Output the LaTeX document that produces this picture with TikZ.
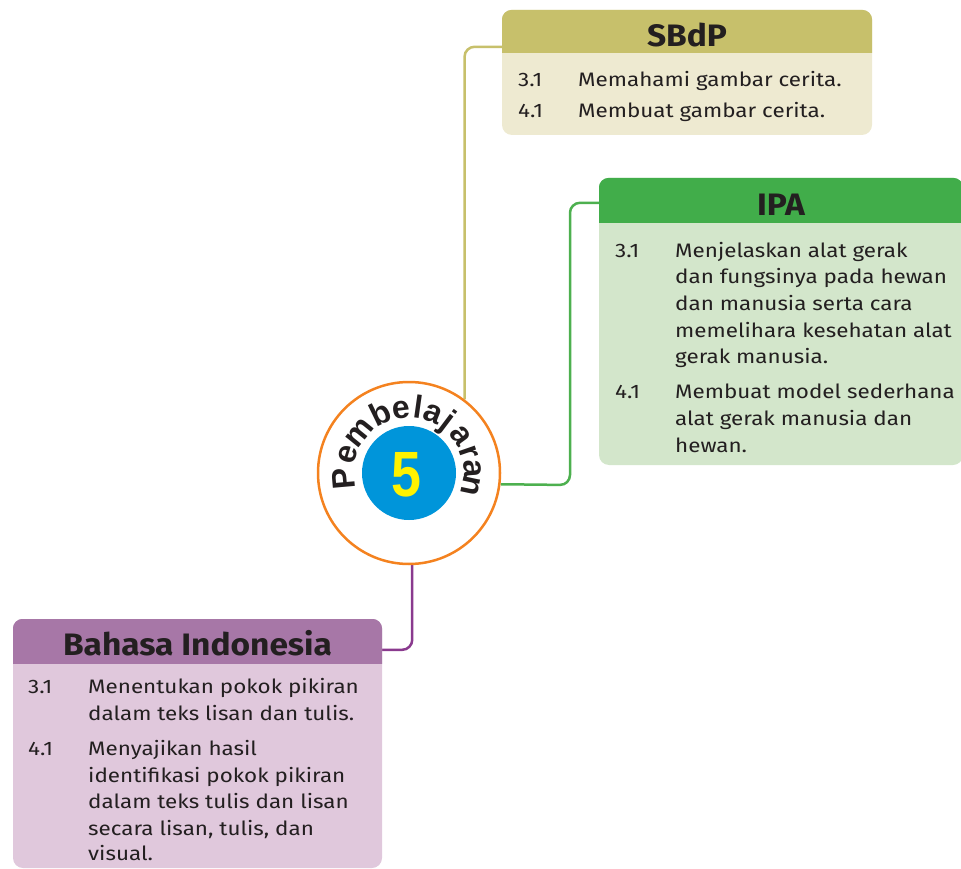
\documentclass[tikz,border=0pt]{standalone}
\usepackage{fontspec}
\setmainfont{Fira Sans}[FakeStretch=1.15]
\newfontfamily\titlefont{Fira Sans}[FakeStretch=1.08]
\newfontfamily\numfont{Liberation Sans}
\usetikzlibrary{calc,backgrounds}
\definecolor{sbdphead}{HTML}{C7C06B}
\definecolor{sbdpbody}{HTML}{EEEAD1}
\definecolor{ipahead}{HTML}{41AD4A}
\definecolor{ipabody}{HTML}{D3E6CB}
\definecolor{ipalink}{HTML}{4DB04F}
\definecolor{bihead}{HTML}{A777A7}
\definecolor{bibody}{HTML}{E0C8DC}
\definecolor{bilink}{HTML}{8A3A8E}
\definecolor{ring}{HTML}{F4821F}
\definecolor{blue5}{HTML}{0095DA}
\definecolor{yel5}{HTML}{FFF200}
\definecolor{ink}{HTML}{231F20}
\tikzset{
  card/.style={rectangle, rounded corners=10pt, inner sep=0pt, draw=none},
  cardtitle/.style={font=\titlefont\fontsize{31}{31}\selectfont\bfseries, text=ink, anchor=base, inner sep=0pt},
  txt/.style={font=\fontsize{19.5}{24}\selectfont, text=ink, anchor=base west, inner sep=0pt},
  link/.style={line width=2.5pt, rounded corners=10pt},
  arcl/.style={font=\numfont\bfseries\fontsize{32}{32}\selectfont, text=ink, anchor=base, inner sep=0pt}
}
\begin{document}
\begin{tikzpicture}[x=1pt,y=-1pt]
\useasboundingbox (0,0) rectangle (961,869);
% cards
\node[card, fill=sbdpbody, minimum width=370pt, minimum height=125pt] (sbdp) at (687,72.5) {};
\begin{scope}
  \clip (502,10) rectangle (872,53);
  \fill[sbdphead, rounded corners=10pt] (sbdp.north west) rectangle (sbdp.south east);
\end{scope}
\node[card, fill=ipabody, minimum width=364pt, minimum height=287pt] (ipa) at (781,321.5) {};
\begin{scope}
  \clip (599,178) rectangle (963,223);
  \fill[ipahead, rounded corners=10pt] (ipa.north west) rectangle (ipa.south east);
\end{scope}
\node[card, fill=bibody, minimum width=369pt, minimum height=249pt] (bi) at (197.5,743.5) {};
\begin{scope}
  \clip (13,619) rectangle (382,663);
  \fill[bihead, rounded corners=10pt] (bi.north west) rectangle (bi.south east);
\end{scope}
% titles
\node[cardtitle] (sbdpT) at (687,47) {SBdP};
\node[cardtitle] (ipaT) at (781,216) {IPA};
\node[cardtitle] (biT) at (197.5,655) {Bahasa Indonesia};
% central circle
\node[circle, draw=ring, line width=2.5pt, fill=white, minimum size=182pt, inner sep=0pt] (circ) at (409,473) {};
\node[circle, fill=blue5, minimum size=94pt, inner sep=0pt] (blue) at (circ.center) {};
\node[font=\numfont\bfseries\fontsize{64}{64}\selectfont, text=yel5, xscale=0.84, inner sep=0pt] (five) at (406,475) {5};
\foreach \l/\a [count=\i] in {P/185,e/163,m/141,b/116,e/97,l/82,a/68,j/53,a/36,r/19,a/4,n/-12}
  \node[arcl, rotate=\a-90] (pl\i) at ($(circ.center)+(\a:55pt)$) {\l};
% connectors
\coordinate (ipaknee) at (570,485);
\begin{scope}[on background layer]
  \draw[link, sbdphead] ([yshift=-37pt]sbdp.north west) -| (circ.53.6);
  \draw[link, ipalink] ([yshift=-25pt]ipa.north west) -| (ipaknee) -- (circ.-7.5);
  \draw[link, bilink] ([yshift=-31pt]bi.north east) -| (circ.-88.1);
\end{scope}
% SBdP text
\node[txt] (s1n) at (518,87) {3.1};
\node[txt] (s1t) at (578,87) {Memahami gambar cerita.};
\node[txt] (s2n) at (518,118) {4.1};
\node[txt] (s2t) at (578,118) {Membuat gambar cerita.};
% IPA text
\node[txt] (i1n) at (615,257) {3.1};
\node[txt] (i1a) at (675,257) {Menjelaskan alat gerak};
\node[txt] (i1b) at (675,283) {dan fungsinya pada hewan};
\node[txt] (i1c) at (675,310) {dan manusia serta cara};
\node[txt] (i1d) at (675,337) {memelihara kesehatan alat};
\node[txt] (i1e) at (675,363) {gerak manusia.};
\node[txt] (i2n) at (615,398) {4.1};
\node[txt] (i2a) at (675,398) {Membuat model sederhana};
\node[txt] (i2b) at (675,425) {alat gerak manusia dan};
\node[txt] (i2c) at (675,452) {hewan.};
% Bahasa Indonesia text
\node[txt] (b1n) at (28,693) {3.1};
\node[txt] (b1a) at (88,693) {Menentukan pokok pikiran};
\node[txt] (b1b) at (88,720) {dalam teks lisan dan tulis.};
\node[txt] (b2n) at (28,755) {4.1};
\node[txt] (b2a) at (88,755) {Menyajikan hasil};
\node[txt] (b2b) at (88,782) {identifikasi pokok pikiran};
\node[txt] (b2c) at (88,808) {dalam teks tulis dan lisan};
\node[txt] (b2d) at (88,835) {secara lisan, tulis, dan};
\node[txt] (b2e) at (88,860) {visual.};
\end{tikzpicture}
\end{document}
